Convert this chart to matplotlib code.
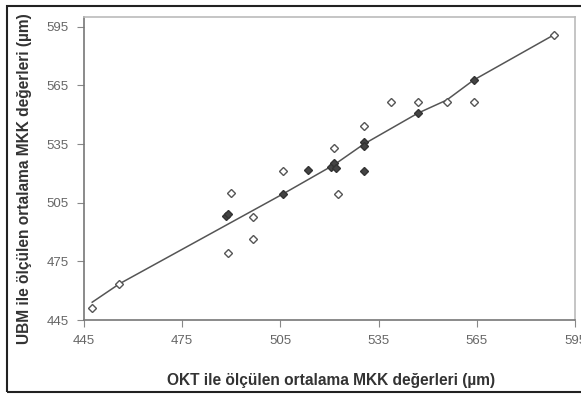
import numpy as np
import matplotlib
matplotlib.use('Agg')
import matplotlib.pyplot as plt
from matplotlib.patches import Rectangle

plt.rcParams['font.family'] = ['Liberation Sans', 'DejaVu Sans']

# OKT (x) ve UBM (y) olcumleri, tek noktalar
okt = [447.5, 455.8, 489.8, 496.6, 496.6, 489.0, 505.8, 521.5, 522.5, 530.5,
       538.8, 547.0, 555.8, 564.0, 588.6]
ubm = [450.9, 463.3, 509.9, 497.9, 486.3, 479.1, 521.3, 533.2, 509.5, 544.0,
       556.4, 556.4, 556.4, 556.4, 590.9]

# ust uste binen noktalar (koyu gorunenler)
okt_ust = [488.5, 488.9, 505.8, 513.4, 520.6, 521.5, 522.0, 530.5, 530.5, 530.5, 547.0, 564.0]
ubm_ust = [498.4, 499.2, 509.5, 521.8, 523.4, 525.2, 523.0, 536.3, 533.8, 521.3, 550.8, 567.7]

# egilim cizgisi
egri_x = [447.5, 455.8, 505.8, 521.5, 530.5, 547.0, 555.8, 564.0, 588.6]
egri_y = [454.1, 463.5, 509.5, 524.5, 535.0, 550.8, 557.5, 567.7, 590.9]

ticks = [445, 475, 505, 535, 565, 595]

fig = plt.figure(figsize=(5.81, 3.94), dpi=100)
ax = fig.add_axes([0.1446, 0.1878, 0.8451, 0.7691])

ax.plot(egri_x, egri_y, color='#555555', lw=1.1, zorder=2)
ax.plot(okt, ubm, ls='none', marker='D', ms=4, mfc='white', mec='#555555', mew=1.0, zorder=3)
ax.plot(okt_ust, ubm_ust, ls='none', marker='D', ms=4.5, mfc='#444444', mec='#333333', mew=1.0, zorder=4)

ax.set_xlim(445, 595)
ax.set_ylim(445, 600)
ax.set_xticks(ticks)
ax.set_yticks(ticks)
ax.tick_params(direction='out', length=5, width=0.8, colors='#888888', labelcolor='#666666',
               labelsize=9.5, pad=6)
for s in ['top', 'right']:
    ax.spines[s].set_color('#bbbbbb')
    ax.spines[s].set_linewidth(1.2)
for s in ['left', 'bottom']:
    ax.spines[s].set_color('#777777')
    ax.spines[s].set_linewidth(1.2)

ax.set_xlabel('OKT ile ölçülen ortalama MKK değerleri (µm)', fontsize=11.2,
              fontweight='bold', color='#333333')
ax.set_ylabel('UBM ile ölçülen ortalama MKK değerleri (µm)', fontsize=11.2,
              fontweight='bold', color='#333333')
ax.xaxis.set_label_coords(0.503, -0.175)
ax.yaxis.set_label_coords(-0.106, 0.465)

# dis cerceve
fig.patches.append(Rectangle((7/581, 2/394), 1.0, 1 - 8/394, transform=fig.transFigure,
                             fill=False, ec='#222222', lw=1.5))

plt.savefig('out.png', dpi=100)
plt.close()
